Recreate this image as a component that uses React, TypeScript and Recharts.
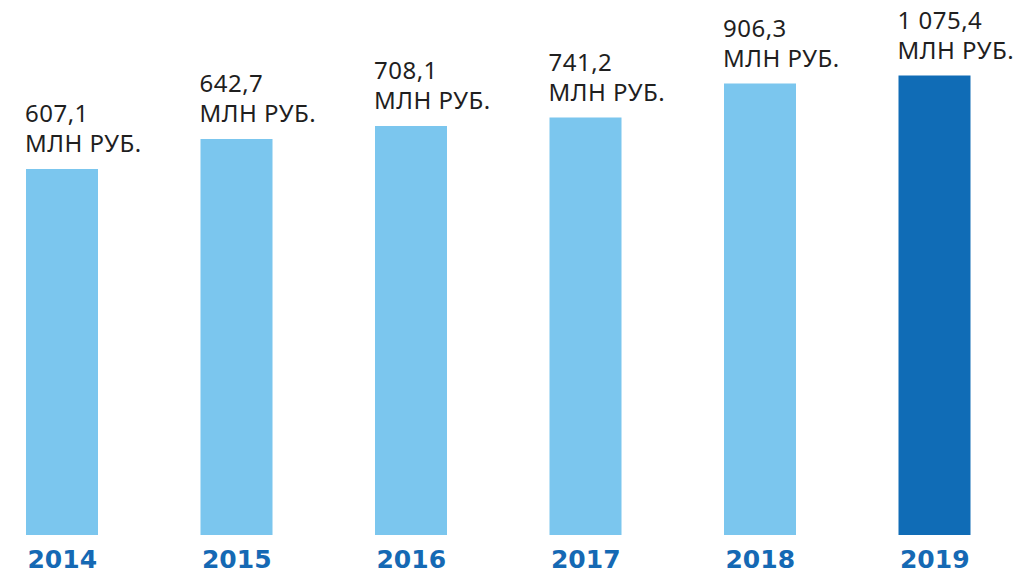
import React from 'react';
import { BarChart, Bar, XAxis, YAxis, Cell, LabelList } from 'recharts';

// Years (categories)
const years = ['2014', '2015', '2016', '2017', '2018', '2019'];
// Reported amounts, shown as labels (млн руб.)
const amountLabels = ['607,1', '642,7', '708,1', '741,2', '906,3', '1 075,4'];
// Drawn bar heights (relative scale 0–100)
const barHeights = [73.2, 79.2, 81.8, 83.5, 90.3, 91.9];
const unitLabel = 'МЛН РУБ.';

const data = years.map((y, i) => ({ year: y, h: barHeights[i], label: amountLabels[i] }));

const LIGHT = '#7bc6ee';
const DARK = '#106cb6';
const YEAR_COLOR = '#1569b4';
const TEXT_COLOR = '#1f1f1f';
const FONT = '"Noto Sans", sans-serif';

const YearTick = (props: any) => {
  const { x, y, payload } = props;
  return (
    <text x={x} y={y} dy={33} textAnchor="middle" fill={YEAR_COLOR}
      style={{ fontFamily: '"DejaVu Sans", sans-serif', fontWeight: 700, fontSize: 25 }}>
      {payload.value}
    </text>
  );
};

const ValueLabel = (props: any) => {
  const { x, y, index } = props;
  const tx = Number(x) - 1;
  const base = Number(y) - 17;
  return (
    <g style={{ fontFamily: FONT, fontSize: 24, letterSpacing: 0.5 }} fill={TEXT_COLOR}>
      <text x={tx} y={base - 30}>{amountLabels[index]}</text>
      <text x={tx} y={base}>{unitLabel}</text>
    </g>
  );
};

export default function App() {
  return (
    <div style={{ margin: '-8px 0 0 -33px', width: 1047, height: 573 }}>
      <BarChart width={1047} height={573} data={data}
        margin={{ top: 35, right: 0, left: 0, bottom: 0 }}>
        <XAxis dataKey="year" axisLine={false} tickLine={false} tickSize={0} tickMargin={0}
          height={38} tick={<YearTick />} interval={0} />
        <YAxis hide domain={[0, 100]} />
        <Bar dataKey="h" barSize={72} isAnimationActive={false}>
          {data.map((d, i) => (
            <Cell key={d.year} fill={i === data.length - 1 ? DARK : LIGHT} />
          ))}
          <LabelList dataKey="label" content={<ValueLabel />} />
        </Bar>
      </BarChart>
    </div>
  );
}
